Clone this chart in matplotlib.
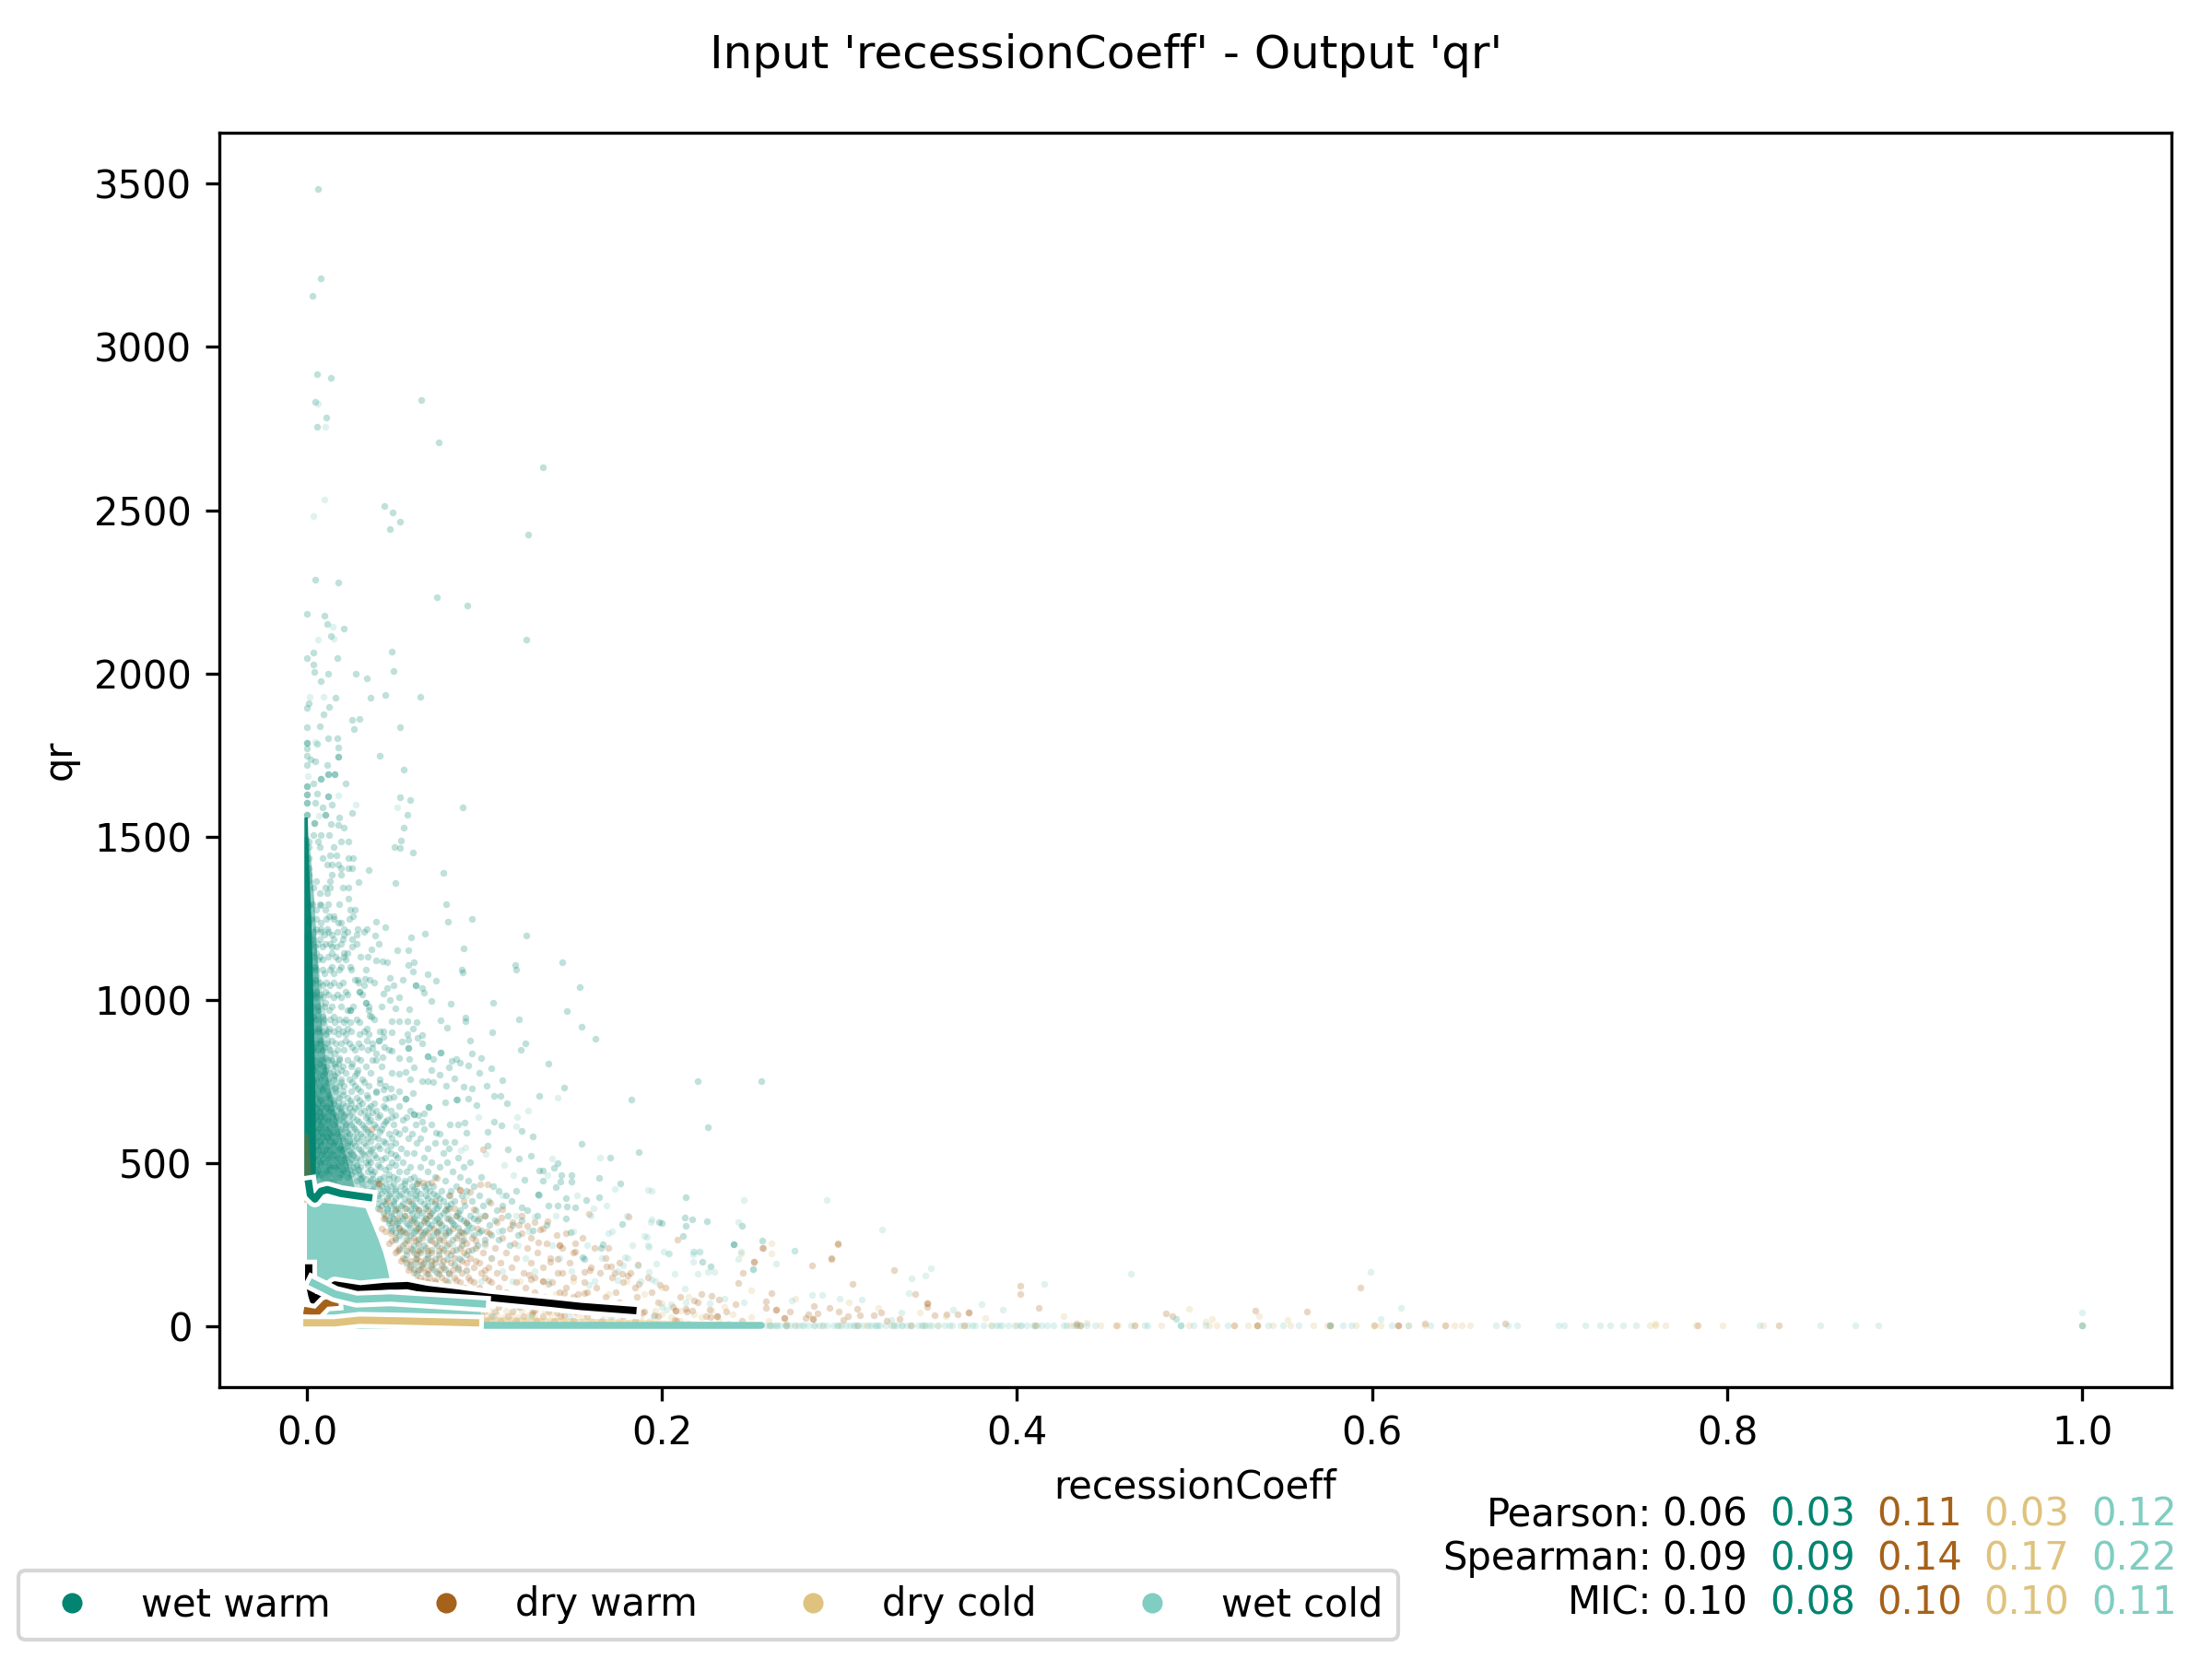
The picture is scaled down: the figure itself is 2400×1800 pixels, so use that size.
import numpy as np
import matplotlib
matplotlib.use("Agg")
import matplotlib.pyplot as plt
import matplotlib.patheffects as pe
from matplotlib.lines import Line2D

######################################################################################
# colours and labels
######################################################################################
colors = ["#018571", "#a6611a", "#dfc27d", "#80cdc1"]
labels = ["wet warm", "dry warm", "dry cold", "wet cold"]
row_names = ["Pearson:", "Spearman:", "MIC:"]
pearson = ["0.06", "0.03", "0.11", "0.03", "0.12"]
spearman = ["0.09", "0.09", "0.14", "0.17", "0.22"]
mic = ["0.10", "0.08", "0.10", "0.10", "0.11"]

######################################################################################
# points, one (x, y) per dot
######################################################################################
wet_warm_pts = [
	(.0064,3484),(.0076,3210),(.003,3155),(.0057,2917),(.0135,2905),(.0646,2838),(.0047,2833),(.0109,2785),
	(.0059,2755),(.0744,2708),(.133,2630),(.1247,2425),(.0436,2512),(.0481,2492),(.0524,2465),(.0465,2442),
	(.0048,2286),(.0174,2279),(.073,2233),(.0904,2208),(0,2182),(.0098,2176),(.0112,2152),(.0207,2137),
	(.1236,2102),(.0134,2115),(.0038,2065),(.0002,2046),(.017,2046),(.0477,2068),(.0036,2026),(.004,2004),
	(.0119,2000),(.0274,2000),(.0486,2008),(.0339,1985),(.0076,1975),(.016,1925),(.0356,1926),(.0441,1933),
	(.064,1929),(.0009,1910),(0,1895),(.0122,1896),(.0095,1875),(.0253,1859),(.0298,1862),(.0263,1830),
	(0,1836),(.0074,1838),(.0523,1835),(.0121,1802),(.017,1800),(0,1786),(0,1786),(.0059,1785),(0,1770),
	(.0174,1772),(0,1748),(.0022,1736),(.0048,1731),(.0177,1745),(.0177,1745),(.0408,1748),(0,1720),
	(.0114,1719),(.0546,1705),(.0121,1691),(.0121,1691),(.0153,1691),(.0153,1691),(.0079,1677),(.0079,1677),
	(.0036,1663),(.0219,1662),(0,1655),(0,1655),(0,1629),(0,1629),(.0059,1633),(.0121,1624),(.0121,1624),
	(.0525,1620),(.058,1613),(.0876,1591),(.0045,1605),(0,1603),(0,1603),(.009,1590),(.014,1597),(.0255,1572),
	(.0565,1568),(.0179,1559),(0,1568),(0,1568),(.0103,1568),(.0103,1568),(.0041,1541),(.0041,1541),
	(.0133,1540),(.0177,1537),(.0546,1528),(.0208,1528),
	(.053,1488),(.0491,1468),(.0525,1465),(.0597,1450),(.0348,1399),(.0768,1388),(.0498,1357),(.0289,1362),
	(.0785,1293),(.0931,1248),(.0795,1240),(.0389,1240),(.0443,1222),(.0665,1204),(.1236,1198),(.0589,1191),
	(.0384,1196),(.0406,1172),(.0363,1156),(.0506,1153),(.0572,1153),(.0882,1158),(.0343,1132),(.0387,1121),
	(.0425,1117),(.0449,1116),(.057,1106),(.0601,1115),(.0596,1088),(.1171,1106),(.1179,1093),(.1436,1116),
	(.087,1092),(.0875,1083),(.0678,1079),(.0725,1058),(.0467,1068),(.0539,1061),(.0329,1065),(.0353,1063),
	(.1534,1039),(.0486,1045),(.0451,1035),(.0613,1044),(.0613,1044),(.0647,1037),(.0661,1023),(.0429,1019),
	(.0517,1008),(.0468,999),(.0701,997),(.0808,987),(.1049,992),(.0499,974),(.0575,970),(.1463,966),
	(.0351,953),(.0752,938),(.0894,945),(.0892,934),(.1193,939),(.0518,936),(.0565,936),(.0616,931),(.0479,936),
	(.1546,918),(.079,914),(.0599,912),(.1042,902),(.0477,902),(.0408,905),(.0565,896),(.0432,886),(.0403,876),
	(.0403,876),(.0532,874),(.057,878),(.0622,883),(.0647,893),(.0651,867),(.0919,875),(.1228,867),(.1624,880),
	(.1204,846),(.0437,857),(.0572,852),(.0572,852),(.037,852),(.0475,844),(.0931,836),(.0678,828),(.0678,828),
	(.0751,838),(.0751,838),(.0711,819),(.098,823),(.0518,823),(.0575,819),(.0424,825),(.0389,835),(.0367,815),
	(.1362,805),(.0814,812),(.084,818),(.0863,809),(.0907,799),(.0797,793),(.104,790),(.0699,784),(.0604,793),
	(.0971,777),(.0747,771),(.0518,774),(.0553,779),(.0579,758),(.0828,761),(.11,753),(.0651,751),(.068,750),
	(.0711,747),(.1014,738),(.0782,737),(.0883,735),(.0928,728),(.1446,732),(.0472,730),(.0596,715),(.1052,705),
	(.109,706),(.131,706),(.1825,694),(.0907,698),(.0844,695),(.078,685),(.1126,683),(.0411,746),(.0432,725),
	(.0389,716),(.0441,697),(.0487,702),(.0556,697),(.0556,697),(.0518,720),
	(.0957,678),(.084,695),(.0684,672),(.0684,672),(.0604,650),(.0604,650),(.0561,640),(.0659,652),(.0647,627),
	(.1055,627),(.1097,615),(.0885,625),(.0851,618),(.0802,618),(.1209,600),(.1271,582),(.1018,595),(.0899,593),
	(.0725,593),(.1546,560),(.1868,534),(.1706,516),(.1019,555),(.0828,565),(.0778,565),(.1133,543),(.1193,515),
	(.1259,523),(.141,501),(.1389,487),(.131,476),(.1431,462),(.1491,464),(.1224,450),(.133,476),(.1327,445),
	(.1427,443),(.1488,443),(.1643,454),(.1763,438),(.1401,426),(.1302,403),(.1302,403),(.1458,393),(.1572,387),
	(.1643,395),(.1212,365),(.1362,370),(.1414,370),(.1465,367),(.1508,365),(.1777,314),(.1982,319),(.146,330),
	(.1486,289),(.1668,251),(.1655,241),(.155,211),(.2203,751),(.2557,751),(.2258,610),(.2132,396),(.213,334),
	(.2168,328),(.2253,323),(.2133,309),(.2,317),(.2452,307),(.2116,278),(.2403,252),(.2566,262),(.2404,251),
	(.2515,176),(.2228,198),(.2274,183),(.1562,207),
]
dry_warm_pts = [
	(.0992,542),(.0363,604),(.1813,335),(.1589,345),(.0802,401),(.1018,436),(.0975,434),(.0863,417),(.0863,417),
	(.0918,412),(.1035,379),(.0828,363),(.0678,356),(.0548,361),(.0622,437),(.0656,440),(.0699,440),(.0733,454),
	(.0406,437),(.0406,437),(.1353,321),(.1314,297),(.1408,281),(.1508,253),(.1422,248),(.1422,248),(.1698,239),
	(.1508,228),(.1414,206),(.1371,197),(.1302,258),(.1241,309),(.1193,312),(.1155,318),(.1095,334),(.1689,183),
	(.1715,185),(.1866,190),(.1594,173),(.156,167),(.1439,164),(.1732,164),(.1775,161),(.1809,155),(.1869,131),
	(.199,127),(.1525,98),(.156,103),(.1448,103),(.1362,131),(.1327,139),(.1327,139),(.125,159),(.1259,145),
	(.1216,94),(.1284,47),(.1267,38),(.1405,42),(.1448,33),(.1887,42),(.1956,33),
	(.299,251),(.2568,240),(.2955,207),(.2847,187),(.2517,198),(.2457,164),(.2432,132),(.3306,172),(.3074,129),
	(.4017,125),(.4017,99),(.4124,57),(.2615,103),(.3426,99),(.2281,94),(.2323,83),(.2223,99),(.2181,80),(.2587,77),
	(.2856,63),(.2942,58),(.3097,53),(.3493,71),(.3493,71),(.3493,59),(.2587,56),(.264,52),(.264,52),(.2721,45),
	(.2691,25),(.2691,25),(.2826,36),(.2874,40),(.2851,22),(.2851,22),(.281,25),(.2995,45),(.3048,30),(.3115,35),
	(.3192,33),(.3236,42),(.3338,24),(.3537,35),(.3602,36),(.3665,38),(.373,42),(.373,42),(.2269,52),(.2311,30),
	(.2311,30),(.2135,55),(.2079,49),(.2079,49),(.2072,19),(.2172,47),(.2274,28),(.2415,68),(.3023,19),(.3266,17),
	(.2087,265),(.2566,240),(.2988,253),(.2954,208),(.2516,199),
	(.484,40),(.4874,32),(.5342,49),(.5632,46),(.5933,120),(.6298,8),(.6748,8),(.7833,4),(.829,3),(.4337,9),
	(.5354,3),(.5765,3),(.6146,3),(.6413,3),
]
wet_cold_pts = [
	(.0064,2827),(.0102,2755),(.0097,2532),(.0035,2482),(.0005,1686),(.0177,1627),(.0274,1597),(.0511,1591),
	(.0016,1928),(.0095,1928),(.0146,2142),(.0064,2102),(.0152,2105),(.0048,1791),(.0069,1565),
	(.1923,419),(.165,517),(.1379,513),(.1164,464),(.1185,640),(.1245,660),(.1176,613),(.0966,642),(.0868,539),
	(.0894,548),(.1009,529),(.1112,495),(.1357,464),(.141,700),(.1732,422),(.1689,370),(.1612,361),(.1281,335),
	(.1698,286),(.1901,278),(.1922,248),(.2011,230),(.1789,213),(.1591,127),(.175,141),(.1939,145),(.2025,52),
	(.2745,233),(.264,192),(.2515,176),(.3517,177),(.3484,155),(.3408,148),(.4154,130),(.3389,102),(.2847,96),
	(.29,96),(.3,84),(.3127,83),(.2733,78),(.2462,75),(.3799,68),(.392,50),(.3637,50),(.3347,42),(.3292,21),
	(.2038,224),(.1926,243),(.2177,229),(.2214,230),(.2177,198),(.22,160),(.2258,167),(.2293,166),(.2072,162),
	(.197,193),(.1926,167),(.1963,139),(.213,116),(.235,85),(.2135,75),(.2269,70),(.2049,69),(.1864,188),
	(.1806,209),(.1783,186),(.1941,416),(.2459,388),(.2926,388),(.1943,329),(.1936,318),(.2429,318),(.3239,298),
	(.1917,274),(.2035,224),(.2182,230),(.2173,220),(.2213,230),(.2445,228),(.2746,233),(.2429,207),
	(.4642,160),(.5992,166),(.6163,56),(.6049,22),(.4894,22),(.4894,22),(1.0,42),
]
dry_cold_pts = [
	(.2616,253),(.2616,224),(.2445,223),(.426,30),(.4966,53),(.5365,31),(.5525,21),(.5099,22),(.506,14),(.4394,12),
	(.7593,10),(.2,120),(.215,90),(.235,60),(.25,110),(.275,86),(.305,75),(.322,58),(.345,42),(.36,30),(.382,25),
]

# busy part of the cloud, read row by row: y -> x of the dots on that row
wet_warm_rows = {
	1505:[.0036,.0080,.0123],1486:[.001,.0062,.0192,.0235],1468:[.001,.0071,.0149],1444:[.0132,.0166],
	1435:[.001,.0088,.0261,.0235],1416:[.0114,.014,.0175],1402:[.001,.0192,.0235,.0253],1383:[.014,.0192,.001],
	1364:[.001,.0054,.0132],1345:[.0036,.0106,.0132,.0201,.0235],1326:[.0071,.0114],1310:[.0235],1289:[.001,.008],
	1275:[.0054,.0106,.0244,.027],1256:[.0123,.0149,.0261],1237:[.001,.008,.0175,.0192],
	1218:[.0054,.008,.0114,.0209,.0287,.0339],1199:[.001,.0097,.014,.0209,.0279],1185:[.0036,.0071,.0149,.0201,.0253],
	1162:[.0045,.0088,.014,.0166,.0253],1143:[.001,.0054,.014,.0209,.0227],1124:[.0062,.0088,.0175,.0218],
	1101:[.001,.0045,.014,.0192,.0244],1082:[.001,.0097,.0149],1063:[.0045,.027,.0287],
	1044:[.0088,.0132,.0183,.0322],1025:[.001,.0054,.0106,.0218,.0296,.0296],1007:[.0045,.0088,.0149,.0192],
	992:[.0106,.0331,.0331],969:[.001,.0062,.0123,.0227,.0244,.0244,.0348],950:[.0036,.0088,.0149,.0365],
	931:[.001,.0088,.0157,.0209,.0244,.0296],913:[.0062,.0123,.0175,.0227,.0339],
	894:[.001,.0106,.0175,.0218,.0296,.0348],875:[.001,.008,.014,.0218,.0339],856:[.0036,.0097,.0253,.0305],
	837:[.001,.0157],823:[.0106,.0183,.0279],804:[.001,.0071,.0157,.0253,.0175],786:[.0036,.0106,.0192,.0287],
	767:[.001,.0088,.0157,.027],748:[.0036,.0114,.0192,.0253,.0322],729:[.001,.0088,.0157,.0287],
	710:[.0036,.0123,.0201,.0339],691:[.001,.008,.0149,.0244,.0296],
	676:[.004,.011,.017,.022,.029,.036,.043,.052],
	662:[.002,.007,.013,.019,.026,.032,.039,.047,.058],
	648:[.005,.009,.016,.021,.024,.034,.041,.05,.063],
	633:[.001,.006,.012,.018,.028,.036,.045,.054],
	619:[.003,.008,.015,.022,.025,.031,.038,.043,.049,.061,.07],
	604:[.006,.011,.019,.027,.033,.042,.055,.066],
	590:[.002,.009,.013,.017,.024,.03,.036,.046,.052,.059,.075],
	575:[.005,.012,.02,.028,.034,.04,.048,.057,.064],
	561:[.003,.008,.015,.023,.026,.032,.044,.05,.062,.072],
	546:[.006,.011,.018,.021,.029,.037,.041,.053,.068,.08],
	532:[.002,.009,.014,.025,.031,.035,.047,.056,.06,.077],
	517:[.004,.012,.017,.022,.028,.039,.044,.051,.066,.085],
	503:[.007,.01,.019,.024,.033,.036,.048,.054,.07,.079,.092],
	488:[.003,.013,.016,.026,.03,.041,.046,.058,.064,.075,.088],
	474:[.006,.011,.021,.027,.034,.038,.052,.056,.068,.082],
	459:[.004,.009,.018,.023,.031,.043,.049,.06,.072,.086,.098],
	445:[.002,.012,.015,.028,.036,.04,.055,.063,.078,.091],
	430:[.038,.042,.047,.053,.059,.066,.071,.084,.094,.105],
	415:[.036,.044,.05,.056,.062,.069,.076,.081,.09,.108,.118],
	400:[.04,.046,.052,.061,.067,.073,.08,.087,.097,.112],
	385:[.037,.043,.049,.057,.064,.07,.077,.083,.093,.102,.115],
	370:[.042,.047,.053,.06,.068,.074,.079,.089,.099,.11],
	355:[.045,.05,.058,.063,.071,.078,.086,.095,.107,.124],
	340:[.048,.055,.062,.069,.075,.084,.092,.1,.113,.13],
	325:[.046,.052,.059,.066,.072,.081,.088,.096,.106,.121],
	310:[.05,.057,.064,.07,.076,.083,.091,.103,.116,.135],
	295:[.048,.054,.061,.067,.074,.08,.09,.098,.11,.127],
	280:[.052,.058,.065,.071,.078,.085,.094,.104,.119],
	265:[.05,.056,.063,.069,.075,.082,.088,.1,.108],
	250:[.054,.06,.066,.073,.079,.087,.096,.114],
	235:[.052,.059,.064,.07,.077,.084,.093],
	220:[.056,.062,.068,.074,.081,.09],
	205:[.055,.061,.067,.072,.079,.086],
	190:[.058,.065,.07,.076,.083],
	175:[.06,.064,.071,.078,.085],
	160:[.062,.068,.074,.08],
}
# second pass over the left edge, between the rows above
wet_warm_fill_rows = {
	1292:[.003,.007,.012,.018],1247:[.002,.005,.011,.015,.024],1208:[.004,.008,.012,.017,.023,.032],
	1172:[.002,.006,.0105,.013,.019,.028],1133:[.003,.007,.012,.016,.021,.03],1092:[.002,.005,.009,.013,.018,.025,.033],
	1053:[.003,.007,.011,.015,.02,.029,.038],1016:[.002,.004,.008,.012,.017,.023,.031],
	980:[.003,.006,.01,.014,.019,.026,.035,.042],941:[.002,.005,.0095,.013,.018,.022,.028,.038],
	904:[.003,.006,.009,.012,.015,.02,.025,.032,.043],866:[.002,.005,.0075,.011,.016,.019,.024,.029,.037],
	846:[.003,.006,.009,.013,.017,.021,.027,.034,.046],815:[.002,.004,.008,.012,.014,.018,.023,.03,.039],
	795:[.003,.005,.009,.011,.016,.02,.025,.033,.042],776:[.002,.006,.01,.013,.017,.022,.028,.036,.048],
	757:[.003,.005,.008,.012,.015,.019,.024,.031,.041],738:[.002,.004,.007,.01,.014,.018,.021,.027,.035,.044],
	719:[.003,.006,.009,.012,.016,.02,.025,.03,.039],700:[.002,.005,.007,.011,.013,.018,.023,.028,.034,.046],
	683:[.003,.006,.009,.013,.015,.02,.025,.031,.038],669:[.002,.005,.008,.011,.014,.018,.024,.027,.035,.044],
	655:[.003,.004,.007,.012,.015,.019,.023,.03,.037],640:[.002,.005,.008,.01,.014,.017,.021,.026,.033,.04,.048],
	626:[.003,.006,.009,.012,.016,.02,.024,.029,.035,.044],611:[.002,.004,.007,.01,.013,.017,.022,.026,.032,.039],
	597:[.003,.005,.008,.012,.015,.019,.023,.028,.034,.041,.05],582:[.002,.006,.009,.011,.014,.018,.022,.026,.031,.038],
	568:[.004,.007,.01,.013,.016,.02,.024,.029,.036,.043],553:[.002,.005,.008,.012,.015,.019,.023,.027,.033,.04,.047],
	539:[.003,.006,.01,.013,.017,.02,.024,.03,.036,.045],524:[.002,.005,.008,.011,.015,.019,.023,.026,.032,.038,.05],
	510:[.003,.006,.009,.013,.016,.021,.025,.03,.035,.042],495:[.002,.005,.008,.012,.015,.018,.022,.028,.034,.04,.05],
	481:[.003,.006,.01,.013,.017,.02,.024,.029,.036,.044],466:[.002,.005,.008,.012,.015,.019,.025,.03,.037,.046],
	452:[.03,.033,.037,.041,.046,.051,.058],437:[.031,.035,.039,.044,.049,.055,.062,.068],
	422:[.033,.037,.041,.045,.05,.055,.06,.067],407:[.034,.038,.042,.047,.053,.058,.064,.071],
	392:[.036,.04,.045,.05,.055,.061,.068,.075],377:[.04,.044,.049,.054,.059,.066,.072,.081],
	362:[.04,.045,.051,.056,.061,.067,.073,.08],347:[.043,.047,.052,.059,.065,.07,.077,.085],
	332:[.044,.049,.054,.06,.067,.073,.079,.086,.094],317:[.046,.051,.056,.062,.068,.074,.082,.09],
	302:[.047,.052,.058,.063,.069,.078,.085,.093],287:[.05,.055,.06,.066,.073,.08,.087,.097],
}
dry_warm_rows = {
	385:[.045,.058,.072,.088],
	360:[.041,.05,.063,.079,.094,.11],
	340:[.044,.055,.069,.084,.1,.121],
	320:[.048,.06,.066,.075,.09,.107,.128],
	300:[.042,.052,.062,.071,.082,.096,.114,.133],
	285:[.047,.056,.068,.078,.088,.103,.121,.146],
	270:[.05,.06,.065,.074,.084,.093,.11,.126,.155],
	255:[.046,.055,.063,.072,.08,.09,.1,.117,.135],
	240:[.052,.058,.067,.076,.086,.095,.106,.124,.144,.162],
	225:[.05,.06,.064,.07,.079,.088,.099,.112,.13,.15],
	210:[.054,.062,.068,.075,.083,.092,.104,.118,.137,.168],
	195:[.056,.061,.066,.072,.081,.09,.097,.109,.126,.148,.176],
	180:[.058,.065,.07,.077,.085,.094,.102,.115,.133,.16],
	165:[.06,.067,.073,.08,.087,.098,.107,.122,.141,.165,.182],
	150:[.064,.069,.076,.083,.091,.1,.111,.128,.15,.172,.192],
	135:[.068,.072,.079,.086,.094,.104,.118,.138,.156,.178],
	120:[.075,.081,.089,.097,.108,.123,.146,.163,.185,.202],
	105:[.09,.1,.112,.128,.142,.158,.174,.194],
	90:[.105,.118,.134,.15,.168,.186,.21],
	75:[.101,.112,.124,.139,.154,.176,.198,.22],
	60:[.099,.108,.12,.131,.146,.162,.183,.206],
	45:[.1,.106,.116,.127,.136,.151,.17,.19,.214,.236],
	30:[.098,.104,.113,.122,.133,.143,.158,.178,.198,.225],
	18:[.101,.109,.118,.129,.139,.15,.166,.185,.208,.245],
	330:[.043,.051,.058,.067,.08,.097],
	292:[.044,.053,.064,.073,.086,.101],
	262:[.048,.057,.061,.07,.077,.087,.095],
	232:[.051,.056,.063,.068,.074,.082,.091],
	202:[.053,.058,.064,.07,.077,.087,.095],
	172:[.057,.063,.068,.075,.082,.09,.1],
	142:[.062,.066,.072,.078,.084,.092,.102],
}
dry_cold_rows = {
	48:[.103,.112,.121,.134,.148,.163,.18,.196,.21,.228],
	38:[.098,.107,.115,.125,.137,.152,.167,.183,.2,.218,.24],
	28:[.097,.103,.111,.119,.128,.141,.155,.171,.188,.205,.222,.25],
	18:[.1,.106,.114,.123,.132,.145,.16,.176,.193,.21,.232,.26],
	10:[.097,.104,.11,.117,.126,.136,.149,.163,.18,.197,.215,.237,.27],
	70:[.108,.13,.15,.175,.2],
	100:[.115,.14,.17,.19],
	140:[.12,.15,.18],
}
wet_cold_rows = {
	400:[.058,.072,.09,.11,.131,.152],
	340:[.064,.08,.097,.118,.14,.16,.18],
	290:[.06,.076,.091,.108,.125,.15,.172],
	250:[.063,.082,.1,.119,.138,.158,.183],
	210:[.068,.085,.104,.123,.142,.166],
	170:[.072,.09,.11,.128,.149,.175],
	140:[.08,.098,.116,.136,.162,.188],
	60:[.1,.118,.137,.156,.18,.2],
	30:[.105,.126,.148,.172,.195],
	325:[.05,.054,.06,.067,.074],
	275:[.053,.058,.064,.07],
	235:[.055,.06,.066],
	190:[.056,.062,.068],
}

# dots sitting on the zero line, x only
wet_cold_zero = [.2606,.2629,.2663,.2721,.2768,.2826,.2884,.293,.2965,.3011,.3058,.3104,.3162,.3197,.3231,.3289,
	.3324,.3382,.344,.3486,.3521,.3591,.3683,.3765,.3857,.3915,.3985,.4054,.4089,.4135,.4205,.4263,
	.264,.27,.279,.286,.299,.308,.321,.335,.347,.362,.375,.39,.402,
	.2585,.2612,.2648,.2692,.2745,.2798,.2855,.2908,.2986,.3035,.3082,.3131,.3178,.3214,.3262,.3305,.3355,.3408,
	.3462,.3505,.3555,.3632,.3722,.3812,.3882,.395,.4022,.4112,.4168,
	.428,.432,.4356,.4394,.444,.4642,.4718,.4737,.492,.492,.492,.4992,.506,.5186,.5415,.5499,.5586,.5765,.5765,
	.5834,.588,.6108,.6203,.6329,.6698,.6767,.6816,.7052,.7079,.7201,.7285,.7342,.7414,.7486,.8183,.8526,.872,
	.8854,1.0,1.0,1.0]
dry_cold_zero = [.2606,.275,.29,.3,.315,.33,.348,.355,.37,.385,.4,.41,.43,.4356,.447,.457,.466,.4813,.4966,.5080,
	.5126,.5225,.53,.5354,.5442,.5537,.567,.5746,.591,.6013,.605,.6203,.6298,.6413,.6462,.6504,.6554,.7562,.7593,
	.7654,.7822,.7974,.8203,1.0,1.0]
dry_warm_zero = [.27,.31,.34,.37,.41,.4337,.4356,.456,.466,.5225,.5354,.5765,.6013,.6146]

# solid masses of dots, given as outlines
core_wet_warm_y = [1560,1480,1380,1250,1100,950,800,650,500,400]
core_wet_warm_x = [.0002,.0006,.0012,.0022,.003,.0036,.0042,.0046,.0048,.004]
soft_wet_warm_y = [1500,1300,1100,900,750,600,480,400]
soft_wet_warm_x = [.001,.004,.006,.0085,.012,.018,.024,.028]
wide_wet_warm_y = [1200,1000,850,700,560,450,400]
wide_wet_warm_x = [.004,.009,.014,.019,.026,.032,.035]
core_wet_cold_x = [0,.006,.02,.033,.037,.04,.043,.045,.048,.068,.098,.098,0]
core_wet_cold_y = [390,380,372,362,310,270,225,185,110,82,68,0,0]
brown_edge_y = [380,420,480,560,590]
brown_edge_x = [.001,.002,.002,.001,.0003]
tan_base_x = [.096,.13,.17,.2,.24,.25,.096]
tan_base_y = [30,26,22,18,12,4,4]

# fitted lines
line_all_x = [.001,.001,.0028,.0036,.0157,.03,.0434,.0565,.0677,.085,.1022,.1196,.1369,.1542,.1836]
line_all_y = [179,141,94,80,127,115,122,125,113,102,89,80,71,61,49]
line_wet_warm_x = [.001,.0019,.0045,.008,.0114,.0192,.0279,.0348]
line_wet_warm_y = [437,404,390,414,419,407,400,395]
line_dry_warm_x = [.0002,.0054,.0106,.0157]
line_dry_warm_y = [47,42,71,73]
line_dry_cold_x = [0,.0157,.0296,.0504,.095]
line_dry_cold_y = [11,11,19,17,11]
line_wet_cold_x = [.0036,.0088,.0157,.0279,.0469,.0677,.0988]
line_wet_cold_y = [132,118,99,83,87,80,69]
zero_band_x = [0,.256]

######################################################################################
def split_pts(pts, row_sets, zero):
	xs = [p[0] for p in pts]
	ys = [p[1] for p in pts]
	for rows in row_sets:
		for y, row in rows.items():
			for x in row:
				xs.append(x)
				ys.append(y)
	for x in zero:
		xs.append(x)
		ys.append(3)
	return xs, ys

plt.rcParams["font.family"] = "DejaVu Sans"
fig = plt.figure(figsize=(8, 6), dpi=300)
ax = fig.add_axes([237.5/2400, 1-1505/1800, (2355.5-237.5)/2400, (1505-144)/1800])

dot = dict(s=3.2, linewidths=0, alpha=0.25)
left = -0.0017

# wet warm
xs, ys = split_pts(wet_warm_pts, [wet_warm_rows, wet_warm_fill_rows], [])
ax.fill_betweenx(wide_wet_warm_y, left, wide_wet_warm_x, color=colors[0], alpha=.22, lw=0, zorder=1)
ax.fill_betweenx(soft_wet_warm_y, left, soft_wet_warm_x, color=colors[0], alpha=.45, lw=0, zorder=1)
ax.fill_betweenx(core_wet_warm_y, left, core_wet_warm_x, color=colors[0], alpha=.95, lw=0, zorder=1)
ax.scatter(xs, ys, color=colors[0], zorder=2, **dot)

# dry warm
xs, ys = split_pts(dry_warm_pts, [dry_warm_rows], dry_warm_zero)
ax.fill_betweenx(brown_edge_y, left, brown_edge_x, color=colors[1], alpha=.4, lw=0, zorder=3)
ax.scatter(xs, ys, color=colors[1], zorder=3, **dot)

# dry cold
xs, ys = split_pts(dry_cold_pts, [dry_cold_rows], dry_cold_zero)
ax.fill(tan_base_x, tan_base_y, color=colors[2], alpha=.45, lw=0, zorder=4)
ax.scatter(xs, ys, color=colors[2], zorder=4, **dot)

# wet cold
xs, ys = split_pts(wet_cold_pts, [wet_cold_rows], wet_cold_zero)
ax.fill(core_wet_cold_x, core_wet_cold_y, color=colors[3], alpha=.95, lw=0, zorder=5)
ax.plot(zero_band_x, [3, 3], color=colors[3], lw=1.8, solid_capstyle="round", zorder=5)
ax.scatter(xs, ys, color=colors[3], zorder=5, **dot)

# lines on top, white halo
halo = [pe.Stroke(linewidth=4.3, foreground="white"), pe.Normal()]
line_sets = [
	(line_all_x, line_all_y, "black"),
	(line_wet_warm_x, line_wet_warm_y, colors[0]),
	(line_dry_warm_x, line_dry_warm_y, colors[1]),
	(line_dry_cold_x, line_dry_cold_y, colors[2]),
	(line_wet_cold_x, line_wet_cold_y, colors[3]),
]
for i, (lx, ly, c) in enumerate(line_sets):
	ax.plot(lx, ly, color=c, lw=1.9, path_effects=halo, zorder=6+i)

ax.set_xlim(-.0496, 1.05)
ax.set_ylim(-186, 3656)
ax.set_xlabel("recessionCoeff")
ax.set_ylabel("qr")
fig.suptitle("Input 'recessionCoeff' - Output 'qr'", fontsize=12, y=1-60/1800, va="center")

handles = [Line2D([], [], ls="none", marker="o", ms=4.3, color=c) for c in colors]
fig.legend(handles, labels, ncol=4, loc="lower left", bbox_to_anchor=(20/2400, 1-1779/1800, 1497/2400, 76/1800),
	mode="expand", borderaxespad=0, fontsize=10, columnspacing=1.0)

# correlation table under the axes
row_base = [1655, 1703, 1752]
col_right = [1896, 2013, 2129, 2245, 2362]
col_colors = ["black"] + colors
for name, vals, yb in zip(row_names, [pearson, spearman, mic], row_base):
	fig.text(1792/2400, 1-yb/1800, name, ha="right", va="baseline", fontsize=10)
	for v, xr, c in zip(vals, col_right, col_colors):
		fig.text(xr/2400, 1-yb/1800, v, ha="right", va="baseline", fontsize=10, color=c)

fig.savefig("out.png", dpi=300)
